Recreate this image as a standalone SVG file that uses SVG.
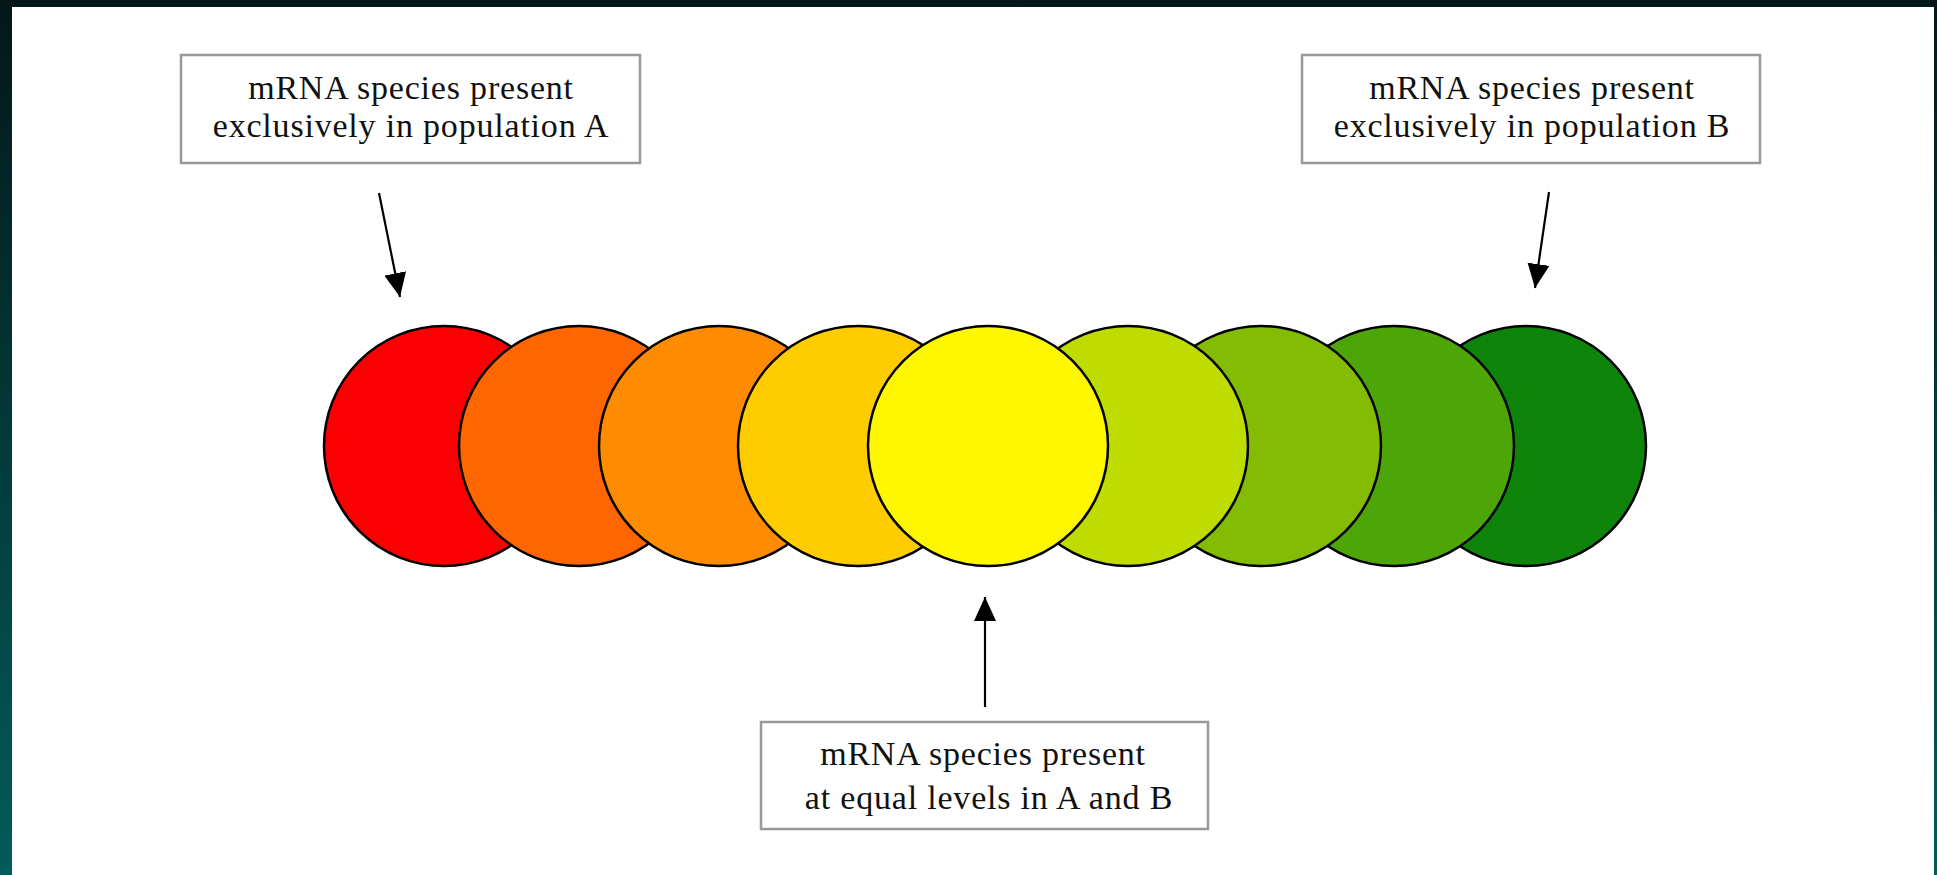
<svg xmlns="http://www.w3.org/2000/svg" width="1937" height="875" viewBox="0 0 1937 875">
  <defs>
    <linearGradient id="bg" x1="0" y1="0" x2="0" y2="1">
      <stop offset="0" stop-color="#031719"/>
      <stop offset="1" stop-color="#035c5a"/>
    </linearGradient>
    <marker id="arrow" markerUnits="userSpaceOnUse" markerWidth="26" markerHeight="22" refX="24" refY="11" orient="auto">
      <path d="M0,0 L24,11 L0,22 Z" fill="#000"/>
    </marker>
    <style>
      .box { fill: #fff; stroke: #999; stroke-width: 2.5; }
      .lbl { font-family: "Liberation Serif", "Times New Roman", serif; font-size: 34px; letter-spacing: 0.8px; fill: #111; text-anchor: middle; }
      .disc { stroke: #000; stroke-width: 2.5; }
      .conn { stroke: #000; stroke-width: 2.2; fill: none; marker-end: url(#arrow); }
    </style>
  </defs>
  <rect x="0" y="0" width="1937" height="875" fill="url(#bg)"/>
  <rect x="12" y="7" width="1922" height="868" fill="#fff"/>

  <g id="circles">
    <circle id="c1" class="disc" cx="444" cy="446" r="120" fill="#fa0000"/>
    <circle id="c2" class="disc" cx="579" cy="446" r="120" fill="#ff6600"/>
    <circle id="c3" class="disc" cx="719" cy="446" r="120" fill="#ff8c00"/>
    <circle id="c4" class="disc" cx="858" cy="446" r="120" fill="#ffcc00"/>
    <circle id="c9" class="disc" cx="1526" cy="446" r="120" fill="#0e840a"/>
    <circle id="c8" class="disc" cx="1394" cy="446" r="120" fill="#4ea508"/>
    <circle id="c7" class="disc" cx="1261" cy="446" r="120" fill="#84bc04"/>
    <circle id="c6" class="disc" cx="1128" cy="446" r="120" fill="#bedc00"/>
    <circle id="c5" class="disc" cx="988" cy="446" r="120" fill="#fff700"/>
  </g>

  <g id="boxA">
    <rect class="box" x="181" y="55" width="459" height="108"/>
    <text class="lbl" x="411" y="99">mRNA species present</text>
    <text class="lbl" x="411" y="137">exclusively in population A</text>
  </g>

  <g id="boxB">
    <rect class="box" x="1302" y="55" width="458" height="108"/>
    <text class="lbl" x="1532" y="99">mRNA species present</text>
    <text class="lbl" x="1532" y="137">exclusively in population B</text>
  </g>

  <g id="boxC">
    <rect class="box" x="761" y="722" width="447" height="107"/>
    <text class="lbl" x="983" y="765">mRNA species present</text>
    <text class="lbl" x="989" y="809">at equal levels in A and B</text>
  </g>

  <g id="connectors">
    <line class="conn" x1="379" y1="193" x2="400" y2="297"/>
    <line class="conn" x1="1549" y1="192" x2="1535" y2="288"/>
    <line class="conn" x1="985" y1="707" x2="985" y2="597"/>
  </g>
</svg>
